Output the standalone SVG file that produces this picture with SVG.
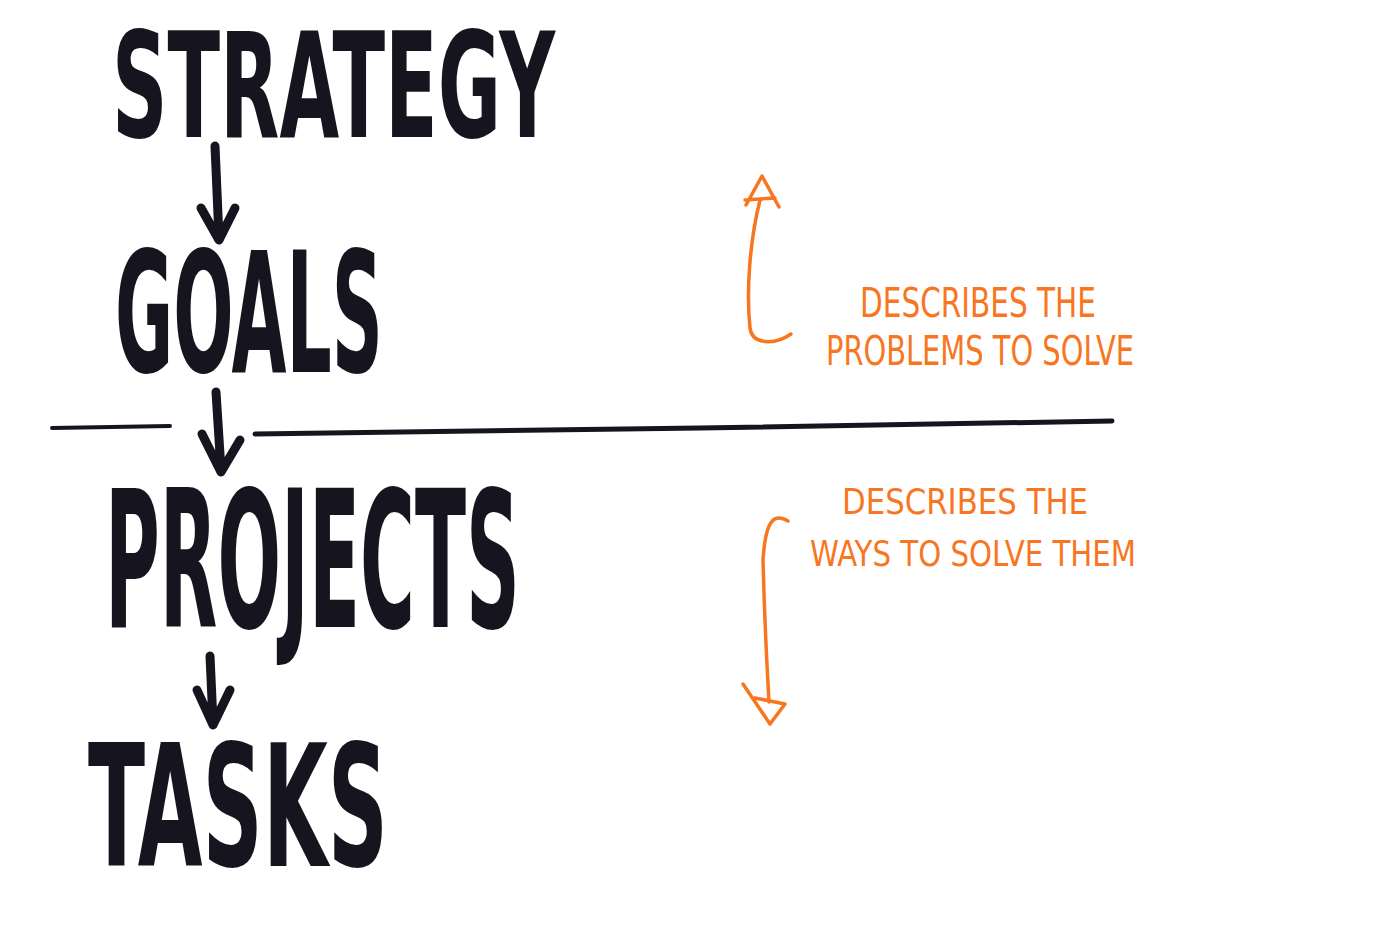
<svg xmlns="http://www.w3.org/2000/svg" width="1400" height="925" viewBox="0 0 1400 925">
<defs>
<style>
.big{font-family:"DejaVu Sans Condensed","Liberation Sans Narrow","Liberation Sans",sans-serif;font-weight:bold;fill:#16151f;}
.note{font-family:"DejaVu Sans Condensed","Liberation Sans Narrow","Liberation Sans",sans-serif;fill:#f7761f;}
.ink{fill:none;stroke:#16151f;stroke-linecap:round;stroke-linejoin:round;}
.orange{fill:none;stroke:#f7761f;stroke-width:3.5;stroke-linecap:round;stroke-linejoin:round;}
</style>
</defs>
<rect width="1400" height="925" fill="#ffffff"/>
<g id="strategy"><text class="big" x="112" y="137" font-size="146" textLength="443" lengthAdjust="spacingAndGlyphs">STRATEGY</text></g>
<g id="goals"><text class="big" x="115" y="372" font-size="168" textLength="268" lengthAdjust="spacingAndGlyphs">GOALS</text></g>
<g id="projects"><text class="big" x="105" y="627" font-size="190" textLength="415" lengthAdjust="spacingAndGlyphs">PROJECTS</text></g>
<g id="tasks"><text class="big" x="88" y="866" font-size="170" textLength="300" lengthAdjust="spacingAndGlyphs">TASKS</text></g>
<g id="divider">
<path d="M52 428 L170 426" class="ink" stroke-width="4"/>
<path d="M255 434 L700 428 L1112 421" class="ink" stroke-width="5"/>
</g>
<g id="note-problems">
<text class="note" font-size="40"><tspan x="860" y="317" textLength="236" lengthAdjust="spacingAndGlyphs">DESCRIBES THE</tspan><tspan x="826" y="365" textLength="308" lengthAdjust="spacingAndGlyphs">PROBLEMS TO SOLVE</tspan></text>
</g>
<g id="note-ways">
<text class="note" font-size="36"><tspan x="842" y="514" textLength="246" lengthAdjust="spacingAndGlyphs">DESCRIBES THE</tspan><tspan x="810" y="566" textLength="326" lengthAdjust="spacingAndGlyphs">WAYS TO SOLVE THEM</tspan></text>
</g>
<g id="connectors">
<path d="M215 146 L219 238 M201 208 L219 240 L235 208" class="ink" stroke-width="9"/>
<path d="M216 392 L221 470 M202 434 L221 472 L240 440" class="ink" stroke-width="9"/>
<path d="M210 656 L213 722 M197 690 L213 725 L230 690" class="ink" stroke-width="9"/>
<path d="M791 334 C775 345 752 345 750 328 C746 290 750 240 760 200" class="orange"/>
<path d="M746 205 L762 176 L779 207 M745 200 L775 198" class="orange"/>
<path d="M788 521 C770 510 765 530 763 560 C764 600 766 650 769 702" class="orange"/>
<path d="M743 684 L770 724 L785 704 L755 698" class="orange"/>
</g>
</svg>
